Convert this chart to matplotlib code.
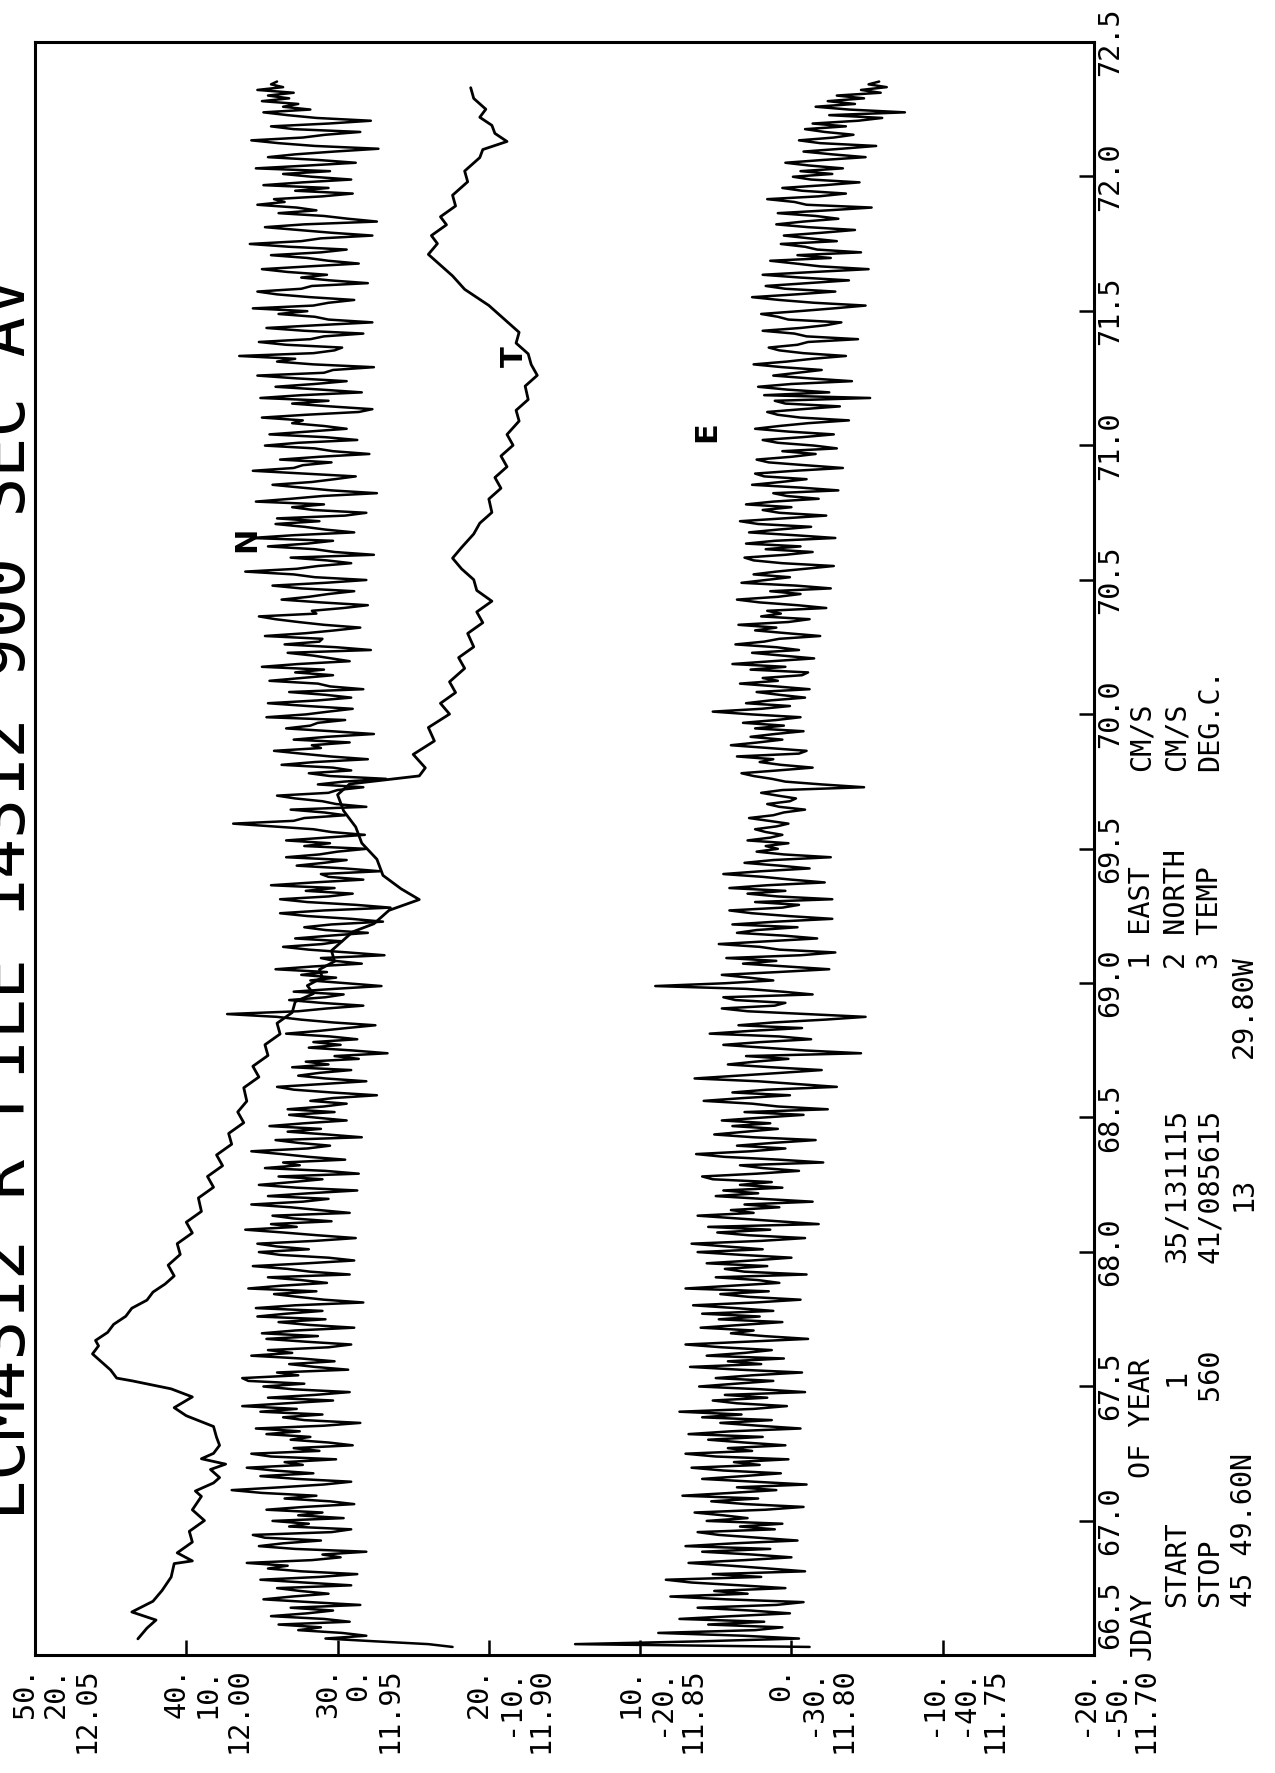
import numpy as np
import matplotlib
matplotlib.use("Agg")
import matplotlib.pyplot as plt
from matplotlib.transforms import blended_transform_factory, offset_copy

# ---------------- data ----------------
START_DAY = 66.53            # first sample (day of year)
STEP_DAY = 900.0 / 86400.0   # 900 s averages

NORTH = [
    -7.6, -6.0, -2.5, 0.8, -1.9, -0.3, 2.6, 1.1, 3.9, -0.8, 0.9, 4.4, 2.0, 0.3, 3.1, -1.5, 1.8, 4.9, 3.0, 0.6, 2.5, 4.0, -0.9, 2.2,
    5.1, 1.2, -1.3, 2.4, 4.6, 3.3, 6.0, 1.7, -0.2, 1.0, -1.9, 2.8, 5.2, 3.6, 1.1, 4.8, 5.6, 0.4, -0.9, 3.2, 1.9, 4.3, -0.4, 2.6,
    1.0, 4.7, 2.2, -1.1, 0.5, 3.5, 1.4, 5.0, 7.0, 3.8, 0.9, -0.9, 2.7, 5.1, 1.6, 4.2, 6.0, 2.3, 3.5, 0.1, 4.4, 5.7, 1.2, 2.9,
    -1.0, 0.6, 3.1, 1.8, 4.7, 2.5, 5.4, 0.9, -1.5, 2.2, 3.6, 1.0, 5.1, 2.7, 6.3, 3.4, 0.3, 4.6, 1.5, -0.8, 2.9, 4.9, 2.2, 5.9,
    6.3, 2.6, 4.0, -0.7, 1.5, 3.2, 0.2, 2.4, 5.7, 3.0, 4.6, 0.6, -0.9, 2.1, 4.7, 1.3, 5.0, 2.8, -1.1, 1.9, 3.9, 0.8, 5.3, 3.4,
    1.0, 5.4, 2.8, -1.7, 0.9, 2.6, 4.2, 1.4, 5.9, 3.7, 0.7, 2.4, 4.6, -0.8, 1.8, 3.3, 5.6, 2.0, -1.1, 0.6, 3.8, 5.2, 1.9, 4.0,
    5.3, 1.5, -1.2, 1.3, 3.6, 6.1, 2.7, 4.4, 0.4, 2.9, 4.3, -0.8, 1.2, 3.1, 5.7, 2.3, 0.6, 4.6, 1.9, -1.3, 2.7, 5.2, 3.0, 1.0,
    3.9, -1.4, 0.8, 4.8, 2.5, 3.6, -0.5, 1.9, 3.7, 5.7, 2.0, 0.5, 2.6, 4.1, -1.6, 0.7, 3.3, 1.1, 4.5, 2.2, -0.6, 1.4, 3.2, 0.2,
    3.3, 0.9, -0.6, 1.8, 0.3, -2.6, 0.4, 2.9, 4.0, 1.0, -1.9, 0.8, 2.6, 1.2, -0.9, 3.0, 0.6, 2.1, -1.4, 0.2, -3.3, -1.0, 1.9, -0.2,
    1.6, -1.3, 0.5, 3.4, 1.2, -0.6, -2.5, 0.3, 2.4, 4.0, 7.3, 2.6, 0.7, -1.7, 1.1, 3.2, 0.8, -0.4, 2.9, 0.2, -2.9, -0.6, 1.8, 0.1,
    2.4, 0.7, 4.1, 1.6, -1.6, 0.2, 1.1, -3.1, -0.7, 1.9, 3.6, 1.0, -0.3, 2.8, 0.5, -2.0, 0.8, 2.2, 0.4, -3.0, -0.9, 2.0, 3.8, 0.9,
    -3.5, -1.2, 2.0, 3.8, 0.6, -1.0, 2.1, 0.2, 4.4, 1.6, -1.7, 0.6, 1.1, -2.8, -0.5, 2.7, 0.9, -0.6, 3.4, 1.2, 0.0, -1.9, 2.2, 0.5,
    3.4, 0.8, -1.8, 0.4, 1.6, 4.2, 6.9, 2.9, 2.2, -0.5, 0.9, 3.1, -1.9, 0.1, 1.0, 2.8, 4.0, 0.6, 0.0, -1.7, 1.3, -0.4, -3.2, 0.5,
    1.9, -0.9, 0.3, 3.7, 1.5, -2.0, 0.5, 2.4, 4.2, 1.1, 1.7, -0.8, 2.9, 0.7, -2.4, 0.4, 3.4, 1.8, 1.3, -0.5, 4.7, 2.1, 0.6, -1.0,
    2.0, 4.6, 1.3, -0.9, 0.8, 3.2, -1.7, 0.5, 1.3, 4.5, 2.4, 0.3, 2.8, 0.9, 5.0, 2.6, -0.8, 0.4, 1.6, 3.3, -2.2, 0.1, 3.5, 1.2,
    1.0, 4.8, 2.1, 0.2, -1.5, 0.9, 2.6, 4.1, 5.2, 1.4, 1.7, -0.4, -2.0, 1.1, 3.7, 1.9, 0.6, -1.1, 2.4, 4.3, 0.8, -1.9, 1.5, 2.9,
    6.1, 2.7, 1.3, -0.9, 0.7, 3.1, -2.4, 0.2, 1.5, 4.6, 2.0, 0.3, 5.7, 2.9, -1.1, 0.8, 2.2, 4.1, 1.2, 4.0, -0.5, -1.9, 1.6, 3.0,
    0.9, 5.4, 3.1, 1.0, -2.6, 0.4, 2.4, 4.3, 1.7, 0.2, -1.2, 2.2, 5.6, 2.9, 2.3, 0.4, 3.8, 1.2, -2.1, 0.3, 1.5, 4.8, 2.6, -1.3,
    0.8, 4.5, 1.9, -0.6, 0.9, 3.0, 2.3, 5.0, 2.1, -1.4, -2.3, 0.5, 3.0, 0.6, 5.1, 2.4, -1.6, 1.1, 4.1, 1.5, -0.6, 2.7, 5.3, 0.9,
    0.3, -2.4, 1.6, 4.0, 2.8, 6.5, 1.6, 0.2, -0.3, 3.4, 5.2, 1.8, 0.9, -1.7, 2.2, 4.7, 1.3, -2.3, 0.6, 1.5, 3.9, 2.0, 5.6, 1.6,
    0.6, -1.1, 1.8, 4.0, 5.3, 2.4, 1.7, -2.0, 0.5, 2.4, 0.7, 3.3, 5.0, 1.9, -1.4, 0.6, 2.0, 4.4, 1.1, -0.6, 3.2, 5.8, 2.4, 1.1,
    -2.3, 0.4, 2.6, 4.8, 2.2, -2.6, -0.7, 0.9, 3.9, 1.4, 2.7, 5.3, 3.5, 4.2, 1.0, -1.0, 2.8, 0.6, 4.9, 2.3, -0.9, 1.7, 3.6, 0.5,
    5.4, 2.0, -1.2, 1.3, 4.6, 2.8, 0.2, -2.7, 1.5, 3.9, 5.7, 2.3, 0.8, -1.5, 2.9, 4.4, 0.6, -2.2, 1.4, 3.3, 4.9, 1.8, 3.6, 2.6,
    5.0, 3.2, 4.6, 2.9, 5.3, 3.6, 4.4, 4.0,
]

EAST = [
    -1.2, 14.3, 6.0, -0.5, 3.2, 8.8, 2.4, 0.6, 5.5, 1.8, 7.4, 3.9, 0.1, 2.7, 6.2, 1.0, -0.8, 4.3, 8.0, 2.9, 5.1, 0.4, 3.4, 6.6,
    8.3, 2.0, 5.2, -0.9, 1.5, 4.0, 6.8, 3.1, 0.0, 2.6, 5.9, 1.4, 7.0, 3.8, -0.4, 2.2, 4.8, 6.2, 1.1, 3.4, 0.6, 5.6, 2.9, 4.5,
    6.4, 1.7, -0.8, 3.0, 5.3, 2.2, 7.2, 4.0, 1.0, 3.6, -1.0, 2.4, 5.9, 3.2, 0.7, 4.5, 6.6, 2.1, 3.8, 0.2, 5.0, 7.0, 2.6, 4.2,
    0.4, 3.1, 5.5, 1.9, 6.8, 4.0, -0.6, 2.2, 4.7, 1.3, 5.9, 3.3, 7.4, 2.5, 0.3, 3.6, 5.2, 1.6, 4.4, -0.9, 2.0, 6.1, 3.7, 1.2,
    5.0, 2.6, -0.7, 3.4, 6.7, 2.0, 4.2, 0.5, 5.6, 3.1, 1.3, 4.6, 7.0, 2.9, -1.1, 1.8, 4.0, 2.5, 6.0, 3.3, 0.6, 4.8, 2.1, 5.9,
    1.2, 3.7, 6.5, 2.4, -0.6, 2.8, 4.7, 1.5, 7.0, 3.9, 0.8, 2.2, 5.0, -1.0, 3.1, 4.4, 1.6, 5.6, 2.6, 0.0, 3.3, 6.2, 1.9, 4.3,
    6.6, 2.0, -0.9, 2.8, 4.9, 1.4, 5.5, -1.8, 0.9, 3.6, 6.2, 2.5, 4.0, 0.8, 3.1, -1.4, 1.9, 5.0, 2.2, 4.5, 0.6, 3.4, 1.3, 5.2,
    5.9, 2.3, -0.5, 1.9, 3.4, -2.1, 0.8, 4.4, 6.3, 2.7, 0.4, 3.6, 1.2, -1.6, 2.5, 5.1, 3.0, 0.9, 3.9, 1.4, 4.6, 2.0, -0.8, 3.1,
    -2.4, 0.9, 2.6, 5.8, 3.2, 0.1, 3.9, 1.6, -3.0, -0.4, 2.2, 6.4, 3.5, 0.7, -2.0, 1.3, 4.2, 2.4, 0.2, 3.0, -4.6, -0.9, 1.8, 4.5,
    2.0, -1.3, 0.8, 5.4, 2.7, -0.7, 3.5, 1.2, -2.2, -4.9, -1.0, 2.9, 4.6, 1.1, 0.4, 3.7, 4.5, -1.4, 0.6, 3.0, 9.0, 4.4, 1.2, 2.8,
    4.6, 0.9, -2.5, 0.4, 3.2, 1.0, 4.3, -0.6, -2.9, 0.8, 2.1, 4.8, 1.5, -1.7, 0.5, 3.6, 2.3, -0.4, 3.9, 1.0, -2.7, 0.2, 2.6, 4.1,
    0.6, -0.5, 2.4, -2.7, 0.9, 2.9, 0.4, 4.1, 1.6, -2.2, 0.0, 1.9, 4.5, 2.0, -1.2, 0.8, 3.1, 1.2, -2.6, 0.5, 2.3, 0.9, 1.7, 0.2,
    2.9, 1.4, 0.6, 1.7, 2.4, 1.0, 0.2, 1.5, 2.8, 1.2, 0.5, -0.9, 0.8, 1.6, 0.1, -0.3, 0.9, 2.0, 0.6, -4.8, -2.0, 0.4, 1.3, 2.5,
    3.3, 0.9, -1.4, 0.7, 2.1, 1.2, 3.6, -0.5, -1.0, 1.5, 4.0, 2.2, 0.6, 2.7, 1.1, -0.8, 2.4, 0.5, 3.2, 1.0, -0.6, 2.6, 5.2, 2.0,
    0.1, 3.0, 1.4, -0.9, 0.8, 2.3, -1.2, 1.0, 3.4, 0.9, 1.9, -0.7, -1.1, 2.7, 0.4, 3.9, 1.3, -1.5, 0.6, 2.6, -0.5, 1.0, 3.7, 1.8,
    0.8, -1.9, 0.3, 2.4, 1.0, 3.5, 0.2, -1.2, 2.0, 0.7, 1.6, -2.3, -0.4, 2.1, 3.6, 0.9, -0.6, 1.4, -2.6, -0.3, 3.3, 1.7, 0.1, 2.5,
    1.0, -0.9, -2.8, 0.6, 2.5, 3.1, 0.4, -1.4, 1.7, -0.6, 3.0, 1.1, -2.9, -0.2, 2.8, 0.9, -1.3, 2.2, 3.4, 0.5, -2.3, 0.8, 1.9, 0.0,
    3.0, 1.2, -1.8, 0.3, 1.2, -3.1, -0.6, 2.6, 0.7, -1.0, 1.8, 2.4, -0.2, -3.4, -0.9, 1.5, 2.3, 0.0, -1.6, 0.6, -3.0, -1.5, 0.9, 1.9,
    -0.7, -2.8, 0.2, 2.4, 0.8, -1.1, -3.8, -0.6, 0.9, 1.6, -0.7, -3.2, 0.4, 1.1, -5.2, 1.8, -2.5, 0.3, 2.2, 0.0, -4.0, -1.2, 1.2, -0.4,
    -2.0, 0.6, 2.5, 0.3, -1.4, -3.6, -0.8, 0.8, 1.5, -0.4, -1.1, -4.4, -1.0, -0.2, 1.9, -0.6, -2.3, -3.3, 0.2, 0.9, 2.0, -0.5, -2.8, -4.9,
    -1.5, 0.8, 2.6, -0.3, -2.9, 0.4, 1.7, -1.1, -3.8, -0.6, 1.9, -1.5, -5.1, -1.9, -0.3, 1.4, -2.6, -0.4, -4.6, -1.7, -0.9, 0.7, -3.0, -1.2,
    0.5, -2.0, -4.2, -1.1, 1.0, -0.8, -3.1, -1.6, 0.9, -2.4, -5.3, -1.0, -0.2, 1.6, -1.8, -3.6, -0.7, 0.6, -2.2, -4.5, -1.3, -0.1, -2.7, -0.6,
    -3.4, -1.2, 0.4, -2.1, -4.9, -2.7, -0.8, -3.3, -5.6, -1.9, -0.5, -2.8, -4.1, -2.2, -0.9, -3.6, -1.4, -4.4, -6.0, -2.5, -7.5, -3.8, -1.6, -4.2,
    -2.4, -4.8, -3.0, -5.9, -4.6, -6.3, -5.1, -5.8,
]

T_DAY = [
    66.56, 66.60, 66.63, 66.66, 66.70, 66.74, 66.79, 66.84, 66.85, 66.88,
    66.92, 66.96, 67.00, 67.04, 67.09, 67.11, 67.14, 67.16, 67.19, 67.21,
    67.23, 67.25, 67.28, 67.31, 67.35, 67.39, 67.42, 67.46, 67.49, 67.52,
    67.53, 67.56, 67.59, 67.62, 67.65, 67.67, 67.70, 67.73, 67.76, 67.79,
    67.82, 67.85, 67.88, 67.91, 67.95, 67.99, 68.03, 68.07, 68.11, 68.15,
    68.20, 68.24, 68.28, 68.32, 68.36, 68.40, 68.44, 68.48, 68.52, 68.56,
    68.61, 68.65, 68.69, 68.73, 68.77, 68.81, 68.85, 68.89, 68.93, 68.96,
    68.99, 69.02, 69.05, 69.08, 69.12, 69.16, 69.19, 69.22, 69.27, 69.31,
    69.35, 69.40, 69.46, 69.52, 69.58, 69.64, 69.70, 69.74, 69.77, 69.80,
    69.85, 69.90, 69.95, 70.00, 70.04, 70.08, 70.12, 70.17, 70.21, 70.25,
    70.30, 70.34, 70.38, 70.42, 70.46, 70.50, 70.54, 70.58, 70.62, 70.67,
    70.71, 70.75, 70.80, 70.84, 70.88, 70.92, 70.96, 71.00, 71.04, 71.09,
    71.13, 71.17, 71.22, 71.26, 71.30, 71.34, 71.38, 71.42, 71.47, 71.52,
    71.55, 71.58, 71.63, 71.67, 71.71, 71.75, 71.78, 71.82, 71.85, 71.89,
    71.93, 71.98, 72.02, 72.07, 72.10, 72.13, 72.16, 72.19, 72.22, 72.25,
    72.29, 72.33,
]
T_VAL = [
    12.016, 12.013, 12.010, 12.018, 12.011, 12.008, 12.005, 12.004, 11.998, 12.003,
    11.998, 11.999, 11.994, 11.998, 11.995, 11.997, 11.991, 11.989, 11.992, 11.987,
    11.995, 11.991, 11.989, 11.990, 11.991, 12.000, 12.004, 11.998, 12.005, 12.018,
    12.023, 12.025, 12.028, 12.031, 12.029, 12.030, 12.026, 12.024, 12.020, 12.018,
    12.013, 12.011, 12.007, 12.004, 12.006, 12.002, 12.003, 11.998, 12.000, 11.995,
    11.996, 11.991, 11.993, 11.988, 11.990, 11.985, 11.986, 11.981, 11.983, 11.980,
    11.981, 11.976, 11.978, 11.973, 11.974, 11.969, 11.970, 11.965, 11.964, 11.958,
    11.960, 11.955, 11.956, 11.951, 11.952, 11.948, 11.945, 11.938, 11.933, 11.923,
    11.929, 11.935, 11.937, 11.942, 11.944, 11.948, 11.950, 11.946, 11.923, 11.921,
    11.925, 11.918, 11.920, 11.913, 11.916, 11.911, 11.913, 11.908, 11.910, 11.905,
    11.907, 11.902, 11.904, 11.899, 11.904, 11.905, 11.909, 11.912, 11.909, 11.905,
    11.903, 11.899, 11.900, 11.896, 11.898, 11.894, 11.896, 11.892, 11.894, 11.890,
    11.891, 11.887, 11.888, 11.884, 11.886, 11.887, 11.891, 11.890, 11.895, 11.900,
    11.904, 11.908, 11.912, 11.916, 11.920, 11.917, 11.919, 11.914, 11.916, 11.911,
    11.912, 11.907, 11.908, 11.903, 11.902, 11.894, 11.898, 11.899, 11.903, 11.901,
    11.905, 11.906,
]

VAL_TICKS = [50, 40, 30, 20, 10, 0, -10, -20]
EAST_LABELS = ["50.", "40.", "30.", "20.", "10.", "0.", "-10.", "-20."]
NORTH_LABELS = ["20.", "10.", "0.", "-10.", "-20.", "-30.", "-40.", "-50."]
TEMP_LABELS = ["12.05", "12.00", "11.95", "11.90", "11.85", "11.80", "11.75", "11.70"]

DAY_TICKS = [66.5, 67.0, 67.5, 68.0, 68.5, 69.0, 69.5, 70.0, 70.5, 71.0, 71.5, 72.0, 72.5]
DAY_LABELS = ["66.5", "67.0", "67.5", "68.0", "68.5", "69.0", "69.5",
              "70.0", "70.5", "71.0", "71.5", "72.0", "72.5"]

TITLE = "LCM4312 R FILE 14312 900 SEC AV"

# side annotation: (column, starting day, text)
SIDE_TEXT = [
    (1, 66.48, "JDAY"), (1, 67.16, "OF YEAR"), (1, 69.05, "1 EAST"), (1, 69.79, "CM/S"),
    (2, 66.68, "START"), (2, 67.50, "1"), (2, 67.96, "35/131115"), (2, 69.05, "2 NORTH"), (2, 69.79, "CM/S"),
    (3, 66.68, "STOP"), (3, 67.45, "560"), (3, 67.96, "41/085615"), (3, 69.05, "3 TEMP"), (3, 69.79, "DEG.C."),
    (4, 66.68, "45 49.60N"), (4, 68.15, "13"), (4, 68.72, "29.80W"),
]

# ---------------- figure ----------------
W, H, DPI = 1275, 1773, 100
FL, FR, FT, FB = 35, 1094, 42, 1655   # frame in pixels

plt.rcParams['font.family'] = ['DejaVu Sans Mono', 'DejaVu Sans']
plt.rcParams['lines.solid_joinstyle'] = 'round'
plt.rcParams['lines.solid_capstyle'] = 'round'

fig = plt.figure(figsize=(W / DPI, H / DPI), dpi=DPI)
fig.patch.set_facecolor('white')
ax = fig.add_axes([FL / W, (H - FB) / H, (FR - FL) / W, (FB - FT) / H])
ax.set_xlim(50, -20)
ax.set_ylim(66.5, 72.5)

axN = ax.twiny()
axN.set_xlim(20, -50)
axN.axis('off')
axT = ax.twiny()
axT.set_xlim(12.05, 11.70)
axT.axis('off')

days_e = START_DAY + STEP_DAY * np.arange(len(EAST))
days_n = START_DAY + STEP_DAY * np.arange(len(NORTH))
LW = 1.8
ax.plot(EAST, days_e, color='black', lw=LW)
axN.plot(NORTH, days_n, color='black', lw=LW)
axT.plot(T_VAL, T_DAY, color='black', lw=LW + 0.2)

for s in ax.spines.values():
    s.set_linewidth(2.2)
ax.set_xticks(VAL_TICKS[1:-1])
ax.set_yticks(DAY_TICKS[1:-1])
ax.tick_params(axis='x', direction='in', length=11, width=1.8,
               bottom=True, top=False, labelbottom=False)
ax.tick_params(axis='y', direction='in', length=11, width=1.8,
               left=False, right=True, labelleft=False, labelright=False)

FS = 20.5
# value labels below the frame (three scales)
tr_b = blended_transform_factory(ax.transData, ax.transAxes)
for v, le, ln, lt in zip(VAL_TICKS, EAST_LABELS, NORTH_LABELS, TEMP_LABELS):
    for lab, dx in ((le, -2), (ln, 29), (lt, 60)):
        ax.text(v, 0, lab, transform=offset_copy(tr_b, fig=fig, x=dx, y=-12, units='dots'),
                rotation=90, rotation_mode='anchor', ha='right', va='baseline',
                fontsize=FS, clip_on=False)

# time labels right of the frame
tr_r = blended_transform_factory(ax.transAxes, ax.transData)
for d, lab in zip(DAY_TICKS, DAY_LABELS):
    dy = 40 if d == DAY_TICKS[0] else 0
    ax.text(1.0, d, lab, transform=offset_copy(tr_r, fig=fig, x=24, y=dy, units='dots'),
            rotation=90, rotation_mode='anchor', ha='center', va='baseline',
            fontsize=FS, clip_on=False)

COL_X = [24, 56, 91, 124, 158]
for col, d, s in SIDE_TEXT:
    ax.text(1.0, d, s, transform=offset_copy(tr_r, fig=fig, x=COL_X[col], y=0, units='dots'),
            rotation=90, rotation_mode='anchor', ha='left', va='baseline',
            fontsize=FS, clip_on=False)

# series letters inside the plot
for x, d, s in ((36.0, 70.65, "N"), (18.3, 71.33, "T"), (5.6, 71.05, "E")):
    ax.text(x, d, s, rotation=90, ha='center', va='center', fontsize=22,
            fontweight='bold', family='DejaVu Sans')

# title (partly cut by the page edge, as in the original)
fig.text(25 / W, (H - 1520) / H, TITLE, rotation=90, rotation_mode='anchor',
         ha='left', va='baseline', fontsize=48)

fig.savefig("out.png", dpi=DPI, facecolor='white')
